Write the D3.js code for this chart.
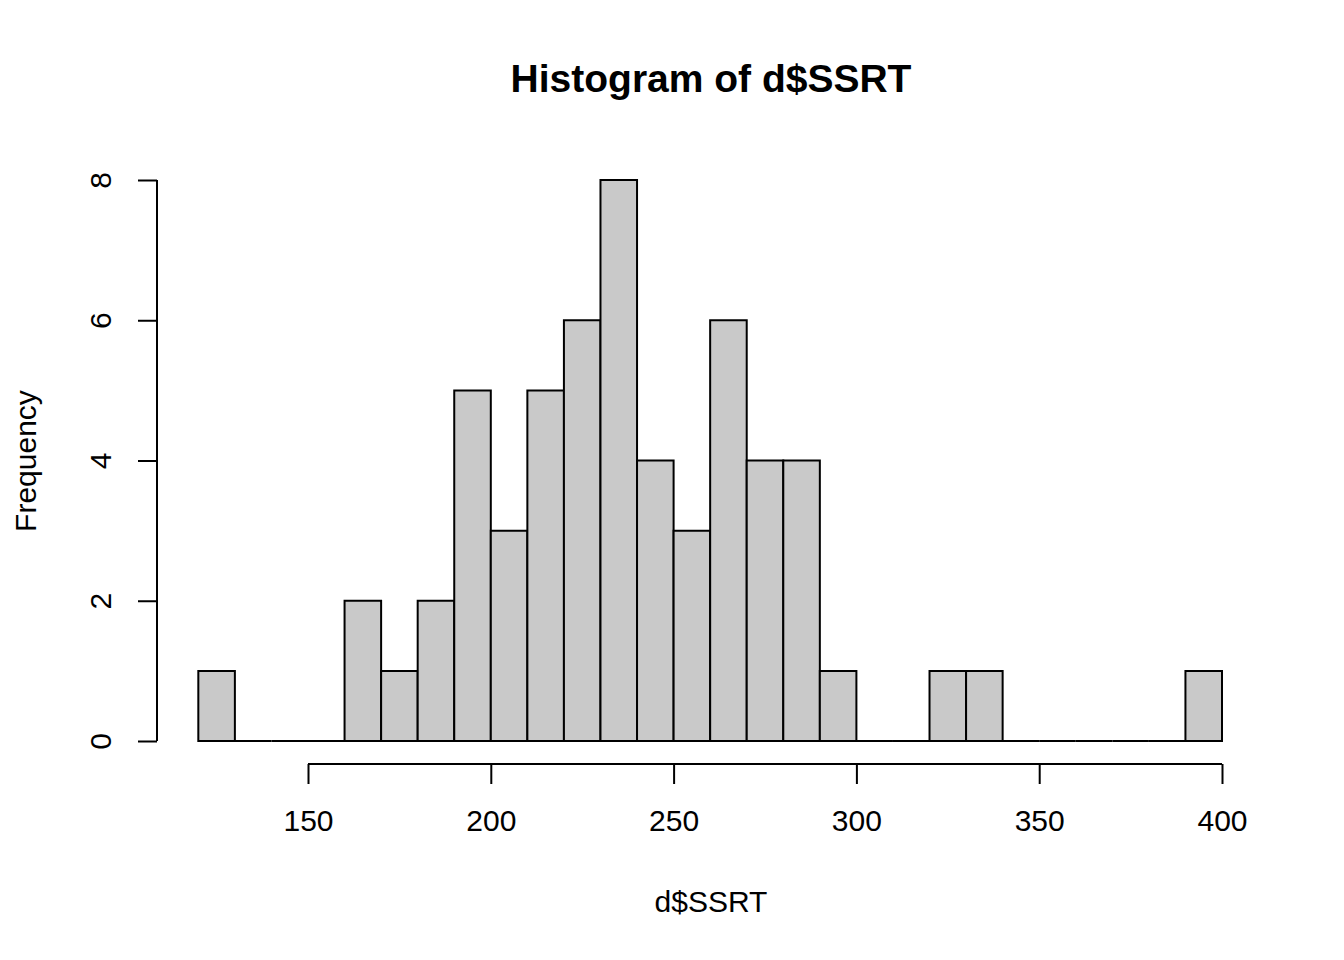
<!DOCTYPE html>
<html><head><meta charset="utf-8">
<script src="https://cdn.jsdelivr.net/npm/d3@7"></script>
<style>body{margin:0;background:#fff}svg{display:block}text{font-family:"Liberation Sans",Arial,sans-serif;fill:#000}</style>
</head><body>
<script>
const binStarts = [120,130,140,150,160,170,180,190,200,210,220,230,240,250,260,270,280,290,300,310,320,330,340,350,360,370,380,390];
const counts    = [1,0,0,0,2,1,2,5,3,5,6,8,4,3,6,4,4,1,0,0,1,1,0,0,0,0,0,1];
const binWidth = 10;
const xTicks = [150,200,250,300,350,400];
const yTicks = [0,2,4,6,8];
const title = "Histogram of d$SSRT";
const xLabel = "d$SSRT";
const yLabel = "Frequency";

const W = 1344, H = 960;
const svg = d3.select("body").append("svg").attr("width", W).attr("height", H);
const x = d3.scaleLinear().domain([150, 400]).range([308, 1222]);
const y = d3.scaleLinear().domain([0, 8]).range([741, 180]);
const lw = 2;

// bars (as closed paths so zero-count bins still draw a baseline)
svg.append("g").selectAll("path").data(binStarts.map((s,i)=>({s, c:counts[i]})))
  .enter().append("path")
  .attr("d", d => {
    const x0 = x(d.s), x1 = x(d.s+binWidth), y0 = y(0), y1 = y(d.c);
    return `M${x0},${y0}H${x1}V${y1}H${x0}Z`;
  })
  .attr("fill", "#c9c9c9").attr("stroke", "#000").attr("stroke-width", lw)
  .attr("stroke-linejoin","miter");

// x axis
const xa = d3.axisBottom(x).tickValues(xTicks).tickSize(20).tickPadding(26).tickFormat(d3.format("d"));
const gx = svg.append("g").attr("transform", "translate(0,764)").call(xa);
gx.select(".domain").attr("d", `M${x(150)},0H${x(400)}`).attr("stroke-width", lw);
gx.selectAll(".tick line").attr("stroke-width", lw);
gx.selectAll("text").attr("font-size", 30).attr("fill","#000");

// y axis
const ya = d3.axisLeft(y).tickValues(yTicks).tickSize(19).tickPadding(0).tickFormat(d3.format("d"));
const gy = svg.append("g").attr("transform", "translate(157,0)").call(ya);
gy.select(".domain").attr("d", `M0,${y(0)}V${y(8)}`).attr("stroke-width", lw);
gy.selectAll(".tick line").attr("stroke-width", lw);
gy.selectAll(".tick text").attr("font-size", 30).attr("fill","#000")
  .attr("x", null).attr("dy", null)
  .attr("text-anchor", "middle")
  .attr("transform", "translate(-46,0) rotate(-90)");

// title and labels
svg.append("text").attr("x", 711).attr("y", 92).attr("text-anchor","middle")
  .attr("font-size", 39).attr("font-weight","bold").text(title);
svg.append("text").attr("x", 711).attr("y", 912).attr("text-anchor","middle")
  .attr("font-size", 30).text(xLabel);
svg.append("text").attr("transform","translate(36,461) rotate(-90)").attr("text-anchor","middle")
  .attr("font-size", 30).text(yLabel);
</script>
</body></html>
